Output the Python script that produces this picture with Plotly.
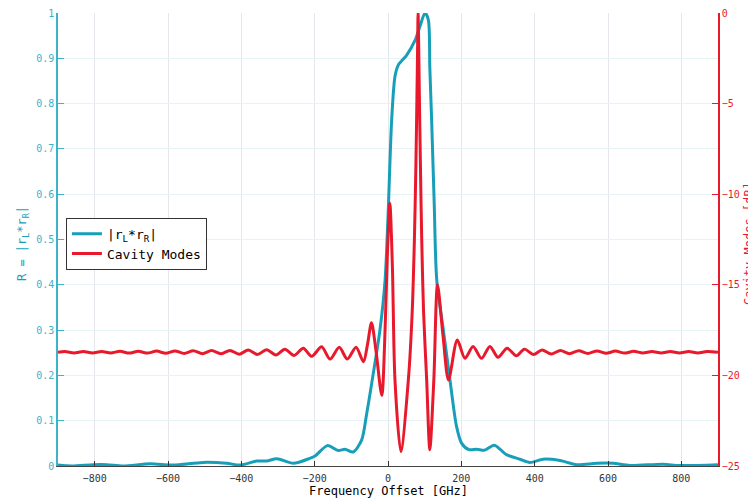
import plotly.graph_objects as go

# ---- data ----
freq_R = [-900, -862, -803, -767, -722, -649, -586, -504, -440, -403, -358, -331, -303, -258,
          -213, -199, -165, -136, -117, -95, -72, -58, -40, -22, -8, 0, 10, 19, 28, 51, 74, 87,
          101, 110, 114, 119, 126, 133, 151, 169, 187, 201, 221, 242, 264, 290, 323, 360, 387,
          423, 469, 514, 569, 614, 660, 750, 795, 900]
R_vals = [0.002, 0.0, 0.003, 0.003, 0.0, 0.005, 0.002, 0.008, 0.006, 0.002, 0.011, 0.011, 0.016, 0.006,
          0.017, 0.022, 0.045, 0.034, 0.037, 0.031, 0.057, 0.116, 0.205, 0.30, 0.41, 0.55, 0.764, 0.86,
          0.885, 0.907, 0.94, 0.97, 1.0, 0.985, 0.88, 0.764, 0.58, 0.41, 0.30, 0.19, 0.087, 0.05, 0.036,
          0.037, 0.035, 0.046, 0.025, 0.015, 0.008, 0.015, 0.012, 0.003, 0.006, 0.006, 0.001, 0.004,
          0.001, 0.003]

freq_C = [-900, -881, -856, -831, -806, -781, -756, -731, -706, -681, -656, -631, -606, -581, -556,
          -531, -506, -481, -456, -431, -406, -381, -356, -331, -306, -281, -256, -231, -208, -181,
          -158, -133, -111, -87, -67, -56, -45, -33, -17, -8, -2, 5, 12, 19, 35, 55.5, 66, 72, 76,
          79, 81, 82, 83.5, 85.5, 88.5, 92, 97, 105.5, 114, 125, 135, 150, 165, 189, 210, 232, 255,
          278, 300, 325, 350, 372, 397, 420, 445, 470, 495, 520, 545, 570, 595, 620, 645, 670, 695,
          720, 745, 770, 795, 820, 845, 870, 900]
C_dB = [-18.72, -18.68, -18.76, -18.68, -18.76, -18.68, -18.76, -18.67, -18.77, -18.67, -18.77,
        -18.66, -18.78, -18.65, -18.79, -18.64, -18.80, -18.63, -18.81, -18.62, -18.83, -18.60,
        -18.85, -18.58, -18.87, -18.55, -18.90, -18.50, -18.95, -18.42, -19.10, -18.45, -19.10,
        -18.45, -19.25, -18.30, -17.10, -18.60, -21.10, -17.50, -13.50, -10.50, -14.00, -20.25,
        -24.20, -20.25, -16.50, -12.50, -8.50, -4.50, -1.50, 0.0, -1.50, -4.50, -8.50, -12.50,
        -16.50, -20.25, -24.10, -20.25, -15.00, -17.80, -20.25, -18.05, -19.06, -18.40, -19.06,
        -18.40, -19.00, -18.50, -18.92, -18.55, -18.85, -18.60, -18.82, -18.62, -18.80, -18.64,
        -18.79, -18.65, -18.78, -18.66, -18.77, -18.67, -18.76, -18.68, -18.76, -18.68, -18.76,
        -18.68, -18.76, -18.68, -18.72]

x_ticks = [-800, -600, -400, -200, 0, 200, 400, 600, 800]

BLUE = "#179fb9"
BLUE_T = "#3cb3cb"
RED = "#e8192c"
MONO = "DejaVu Sans Mono"

fig = go.Figure()
fig.add_trace(go.Scatter(x=freq_R, y=R_vals, mode="lines", name="|r<sub>L</sub>*r<sub>R</sub>|",
                         line=dict(color=BLUE, width=3, shape="spline", smoothing=0.8)))
fig.add_trace(go.Scatter(x=freq_C, y=C_dB, mode="lines", name="Cavity Modes", yaxis="y2",
                         line=dict(color=RED, width=3, shape="spline", smoothing=0.8)))

fig.update_layout(
    width=748, height=492,
    margin=dict(l=50, r=38, t=5, b=34, autoexpand=False),
    paper_bgcolor="white", plot_bgcolor="white",
    font=dict(family=MONO, size=10, color="#333"),
    showlegend=True,
    legend=dict(x=0.012, y=0.548, xanchor="left", yanchor="top",
                bgcolor="white", bordercolor="#333", borderwidth=1,
                font=dict(family=MONO, size=13, color="black"),
                tracegroupgap=0, itemwidth=30),
    xaxis=dict(range=[-900, 900], tickvals=x_ticks, ticks="inside", ticklen=5,
               tickcolor="#333", showline=True, linecolor="#444", linewidth=1,
               showgrid=True, gridcolor="#e4e7eb", zeroline=False, automargin=False,
               tickfont=dict(family=MONO, size=10, color="#333"),
               ticklabelstandoff=3, ticklabeloverflow="allow"),
    yaxis=dict(range=[0, 1], dtick=0.1, ticks="inside", ticklen=6, tickcolor=BLUE_T,
               showline=True, linecolor=BLUE_T, linewidth=1.5, automargin=False,
               showgrid=True, gridcolor="#e6f3f7", zeroline=False,
               ticklabeloverflow="allow",
               tickfont=dict(family=MONO, size=10, color=BLUE_T)),
    yaxis2=dict(range=[-25, 0], dtick=5, overlaying="y", side="right",
                ticks="inside", ticklen=6, tickcolor=RED, automargin=False,
                showline=True, linecolor=RED, linewidth=1.5,
                showgrid=False, zeroline=False, ticklabeloverflow="allow",
                tickfont=dict(family=MONO, size=10, color=RED)),
    annotations=[
        dict(text="Frequency Offset [GHz]", xref="paper", yref="paper", x=0.5, y=-0.055,
             xanchor="center", yanchor="middle", showarrow=False,
             font=dict(family=MONO, size=12, color="black")),
        dict(text="R = |r<sub>L</sub>*r<sub>R</sub>|", xref="paper", yref="paper",
             x=-0.053, y=0.49, xanchor="center", yanchor="middle", textangle=-90,
             showarrow=False, font=dict(family=MONO, size=12, color=BLUE)),
        dict(text="Cavity Modes [dB]", xref="paper", yref="paper",
             x=1.047, y=0.49, xanchor="center", yanchor="middle", textangle=-90,
             showarrow=False, font=dict(family=MONO, size=12, color=RED)),
    ],
)

fig.write_html("out.html")
